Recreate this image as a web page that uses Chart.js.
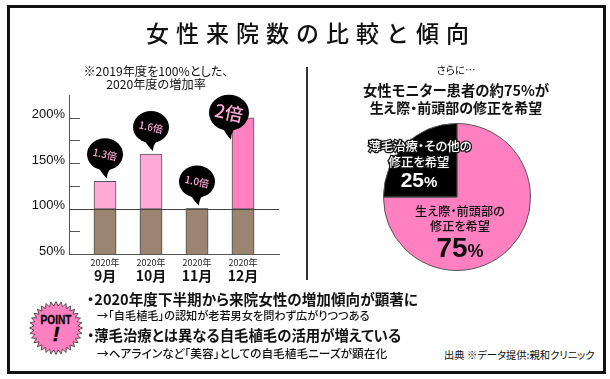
<!DOCTYPE html>
<html lang="ja"><head><meta charset="utf-8">
<script src="https://cdn.jsdelivr.net/npm/chart.js@4"></script>
<style>
html,body{margin:0;padding:0;background:#fff}
#page{position:relative;width:610px;height:379px;overflow:hidden;background:#fff;font-family:"Noto Sans CJK JP","Liberation Sans",sans-serif;color:#111;font-feature-settings:"palt"}
#frame{position:absolute;left:7px;top:5px;width:593px;height:363px;border:3px solid #111}
#divider{position:absolute;left:306px;top:67px;width:2px;height:213px;background:#333}
canvas{position:absolute}
.t{position:absolute;white-space:nowrap;transform:translate(-50%,-50%);line-height:1}
.l{position:absolute;white-space:nowrap;transform:translateY(-50%);line-height:1}
.w{color:#fff;-webkit-text-stroke:2.5px #111;paint-order:stroke fill}
#star{position:absolute;left:26px;top:296px}
</style></head><body>
<div id="page">
<div id="frame"></div><div id="divider"></div>
<canvas id="bars" width="300" height="290" style="left:0;top:0;width:300px;height:290px"></canvas>
<canvas id="pie" width="148" height="148" style="left:383px;top:123px;width:148px;height:148px"></canvas>
<div class="t" style="left:311px;top:32px;font-size:23px;letter-spacing:7px;font-weight:500;font-feature-settings:normal">女性来院数の比較と傾向</div>
<div class="t" style="left:156px;top:71px;font-size:12.2px">※2019年度を100%とした、</div>
<div class="t" style="left:156px;top:84px;font-size:12.2px">2020年度の増加率</div>
<div class="t" style="left:456px;top:70px;font-size:10.5px">さらに…</div>
<div class="t" style="left:456px;top:90px;font-size:14.4px;font-weight:700">女性モニター患者の約75%が</div>
<div class="t" style="left:456px;top:107px;font-size:14px;font-weight:700">生え際・前頭部の修正を希望</div>
<div class="t w" style="left:420px;top:146px;font-size:12.4px;font-weight:500">薄毛治療・その他の</div>
<div class="t w" style="left:419px;top:162px;font-size:12.4px;font-weight:500">修正を希望</div>
<div class="t" style="left:419px;top:179px;font-size:21px;font-weight:700;color:#fff;font-family:'Liberation Sans'">25<span style="font-size:15px">%</span></div>
<div class="t" style="left:460px;top:211px;font-size:12.2px;font-weight:500">生え際・前頭部の</div>
<div class="t" style="left:460px;top:226px;font-size:12.2px;font-weight:500">修正を希望</div>
<div class="t" style="left:460px;top:248px;font-size:28px;font-weight:700;font-family:'Liberation Sans'">75<span style="font-size:18px">%</span></div>
<svg id="star" width="60" height="64" viewBox="0 0 60 64"></svg>
<div class="l" style="left:87px;top:299px;font-size:14.6px;font-weight:700">・2020年度下半期から来院女性の増加傾向が顕著に</div>
<div class="l" style="left:97px;top:316px;font-size:11.2px;font-weight:500">→「自毛植毛」の認知が老若男女を問わず広がりつつある</div>
<div class="l" style="left:87px;top:335px;font-size:14.4px;font-weight:700">・薄毛治療とは異なる自毛植毛の活用が増えている</div>
<div class="l" style="left:97px;top:353px;font-size:11.7px;font-weight:500">→ヘアラインなど「美容」としての自毛植毛ニーズが顕在化</div>
<div class="l" style="left:444px;top:355px;font-size:10.3px">出典 ※データ提供:親和クリニック</div>
</div>
<script>
// ---- data ----
const months = ['9月', '10月', '11月', '12月'];
const yearLabel = '2020年';
const rates = [130, 160, 100, 200];
const baseline = [100, 100, 100, 100];
const multiples = ['1.3倍', '1.6倍', '1.0倍', '2倍'];
const yTickLabels = { 50: '50%', 100: '100%', 150: '150%', 200: '200%' };
const pieLabels = ['生え際・前頭部の修正を希望', '薄毛治療・その他の修正を希望'];
const pieValues = [75, 25];
// ---- styles ----
const lightPink = '#ffaad6', hotPink = '#ff80c0', brown = '#9c8570', lineCol = '#555';
const positions = months.map((_, i) => i + 1);
const sans = '"Liberation Sans",sans-serif', cjk = '"Noto Sans CJK JP",sans-serif';

const overlay = {
  id: 'overlay',
  afterDatasetsDraw(chart) {
    const { ctx, scales: { x, y } } = chart;
    ctx.save();
    ctx.strokeStyle = lineCol; ctx.lineWidth = 1;
    y.ticks.forEach(t => {
      const py = Math.round(y.getPixelForValue(t.value)) + .5;
      ctx.beginPath(); ctx.moveTo(x.left, py); ctx.lineTo(x.left + 11, py); ctx.stroke();
    });
    const p100 = Math.round(y.getPixelForValue(100)) + .5;
    ctx.strokeStyle = '#444';
    ctx.beginPath(); ctx.moveTo(x.left, p100); ctx.lineTo(x.right, p100); ctx.stroke();
    rates.forEach((v, i) => {
      const px = x.getPixelForValue(positions[i]), py = y.getPixelForValue(v);
      const big = i === 3;
      const cx = px + (big ? -14 : 0), cy = py - (big ? 5 : 27);
      const rx = big ? 20 : 18, ry = big ? 18 : 16;
      const tipX = cx + 2, tipY = cy + (big ? 27 : 24);
      ctx.fillStyle = '#000';
      ctx.beginPath(); ctx.ellipse(cx, cy, rx, ry, 0, 0, Math.PI * 2); ctx.fill();
      ctx.beginPath(); ctx.moveTo(cx - 7, cy + ry - 4);
      ctx.quadraticCurveTo(cx - 3, cy + ry + 4, tipX, tipY);
      ctx.quadraticCurveTo(cx + 2, cy + ry + 2, cx + 6, cy + ry - 2); ctx.fill();
      ctx.translate(cx, cy); ctx.rotate(12 * Math.PI / 180);
      ctx.fillStyle = lightPink; ctx.textAlign = 'center'; ctx.textBaseline = 'middle';
      ctx.font = (big ? '500 18px ' : '500 10px ') + cjk;
      ctx.fillText(multiples[i], 0, 0);
      ctx.setTransform(1, 0, 0, 1, 0, 0);
    });
    ctx.fillStyle = '#222'; ctx.textAlign = 'center'; ctx.textBaseline = 'middle';
    ctx.font = '9px ' + cjk;
    positions.forEach(p => ctx.fillText(yearLabel, x.getPixelForValue(p), y.bottom + 9));
    ctx.restore();
  }
};

new Chart(document.getElementById('bars'), {
  type: 'bar',
  data: {
    datasets: [
      { label: '2020年度', data: positions.map((p, i) => ({ x: p, y: rates[i] })), order: 2,
        backgroundColor: [lightPink, lightPink, lightPink, hotPink], borderColor: lineCol, borderWidth: 1, barThickness: 22 },
      { label: '2019年度', data: positions.map((p, i) => ({ x: p, y: baseline[i] })), order: 1,
        backgroundColor: brown, borderColor: lineCol, borderWidth: 1, barThickness: 22 }
    ]
  },
  plugins: [overlay],
  options: {
    responsive: false, animation: false, events: [],
    layout: { padding: { top: 95, right: 21, left: 0, bottom: 0 } },
    datasets: { bar: { grouped: false } },
    plugins: { legend: { display: false }, tooltip: { enabled: false } },
    scales: {
      x: {
        type: 'linear', offset: false, min: 0.217, max: 4.783,
        afterFit: s => { s.height = 36; },
        afterBuildTicks: s => { s.ticks = positions.map(v => ({ value: v })); },
        grid: { display: false, tickLength: 0 },
        border: { color: lineCol, width: 1 },
        ticks: { autoSkip: false, maxRotation: 0, padding: 13, color: '#111',
          font: { family: cjk, size: 14, weight: '700' },
          callback: v => months[v - 1] }
      },
      y: {
        min: 50, max: 225,
        afterFit: s => { s.width = 69; },
        afterBuildTicks: s => { s.ticks = [50, 75, 100, 125, 150, 175, 200].map(v => ({ value: v })); },
        grid: { display: false, tickLength: 0 },
        border: { color: lineCol, width: 1 },
        ticks: { autoSkip: false, padding: 4, labelOffset: -3, color: '#111',
          font: { family: sans, size: 13 },
          callback: v => yTickLabels[v] || '' }
      }
    }
  }
});

new Chart(document.getElementById('pie'), {
  type: 'pie',
  data: { labels: pieLabels, datasets: [{ data: pieValues, backgroundColor: [hotPink, '#000'], borderColor: '#555', borderWidth: 1, hoverOffset: 0 }] },
  options: { responsive: false, animation: false, events: [], layout: { padding: 0 },
    plugins: { legend: { display: false }, tooltip: { enabled: false } } }
});

(function () {
  const svg = document.getElementById('star'), cx = 30, cy = 32, n = 32;
  let pts = [];
  for (let i = 0; i < n * 2; i++) {
    const r = i % 2 ? 22 : 26.5, a = Math.PI * i / n;
    pts.push((cx + r * Math.cos(a)).toFixed(1) + ',' + (cy + r * Math.sin(a)).toFixed(1));
  }
  svg.innerHTML = '<polygon points="' + pts.join(' ') + '" fill="' + hotPink + '" stroke="#222" stroke-width="0.7"/>' +
    '<text x="30" y="28" text-anchor="middle" font-family="Liberation Sans" font-weight="700" font-size="13.5" stroke="#111" stroke-width="0.3" textLength="31" lengthAdjust="spacingAndGlyphs">POINT</text>' +
    '<text x="30" y="45" text-anchor="middle" font-family="Liberation Sans" font-weight="700" font-style="italic" font-size="20" stroke="#111" stroke-width="0.6">!</text>';
})();
</script>
</body></html>
